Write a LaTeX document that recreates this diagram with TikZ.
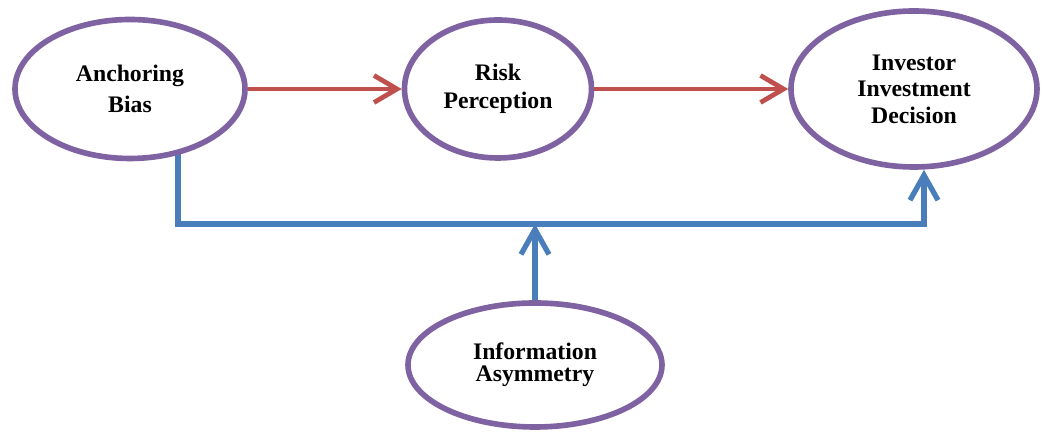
\documentclass[tikz,border=0pt]{standalone}
\usepackage{fontspec}
\setmainfont{Liberation Serif}
\usetikzlibrary{shapes.geometric,arrows.meta,positioning,calc,backgrounds}
\definecolor{PU}{HTML}{7E62A1}
\definecolor{RD}{HTML}{C0504D}
\definecolor{BL}{HTML}{4A7EBB}

\begin{document}
\begin{tikzpicture}[
    factor/.style={ellipse, draw=PU, line width=3.2pt, fill=white,
      align=center, inner sep=0pt,
      font=\fontsize{13.5}{16}\selectfont\bfseries},
    redarrow/.style={RD, line width=2.7pt,
      -{Straight Barb[length=0.46cm,width=0.54cm]}},
    bluearrow/.style={BL, line width=3pt,
      -{Straight Barb[length=0.5cm,width=0.56cm]}}
  ]
  \useasboundingbox (0,0) rectangle (21,8.64);

  \node[factor, minimum width=4.6cm, minimum height=2.78cm]
    (bias) at (2.6,6.86) {Anchoring\\[2pt]Bias};
  \node[factor, minimum width=3.74cm, minimum height=2.76cm]
    (risk) at (9.96,6.86) {Risk\\Perception};
  \node[factor, minimum width=4.92cm, minimum height=3.12cm]
    (decision) at (18.28,6.86) {Investor\\[-1pt]Investment\\[-1pt]Decision};
  \node[factor, minimum width=5.08cm, minimum height=2.48cm]
    (asym) at (10.7,1.34) {Information\\[-3.5pt]Asymmetry};

  % red path
  \draw[redarrow] (bias) -- (risk);
  \draw[redarrow] (risk) -- (decision);

  % blue moderating path
  \coordinate (bendL) at (3.56,4.16);
  \coordinate (bendR) at (18.48,4.16);
  \begin{scope}[on background layer]
    \draw[bluearrow] (bias.center -| bendL) |- (bendR)
      -- (decision.south -| bendR);
  \end{scope}
  \draw[bluearrow] (asym.north) -- (asym.north |- bendL);
\end{tikzpicture}
\end{document}
